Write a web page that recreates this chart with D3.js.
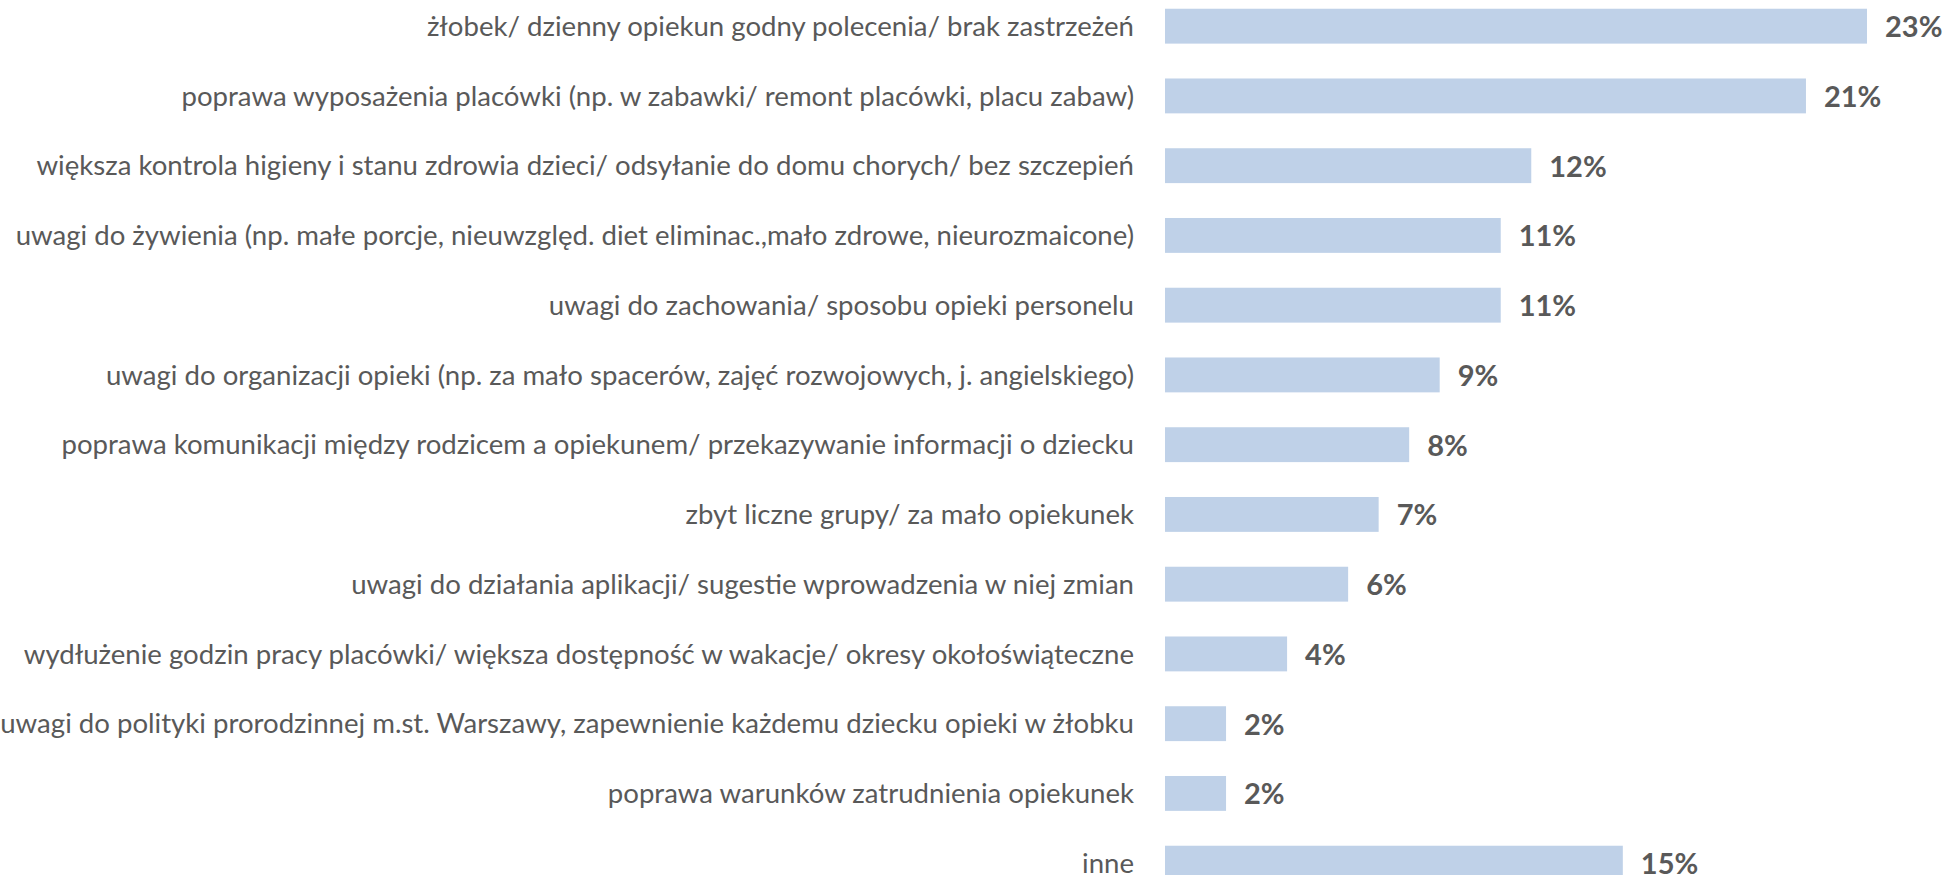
<!DOCTYPE html>
<html>
<head>
<meta charset="utf-8">
<script src="https://cdn.jsdelivr.net/npm/d3@7"></script>
<style>
    html, body { margin: 0; padding: 0; background: #fff; }
    svg { display: block; }
</style>
</head>
<body>
<div id="view"></div>
<script>
const categories = [
    "żłobek/ dzienny opiekun godny polecenia/ brak zastrzeżeń",
    "poprawa wyposażenia placówki (np. w zabawki/ remont placówki, placu zabaw)",
    "większa kontrola higieny i stanu zdrowia dzieci/ odsyłanie do domu chorych/ bez szczepień",
    "uwagi do żywienia (np. małe porcje, nieuwzględ. diet eliminac.,mało zdrowe, nieurozmaicone)",
    "uwagi do zachowania/ sposobu opieki personelu",
    "uwagi do organizacji opieki (np. za mało spacerów, zajęć rozwojowych, j. angielskiego)",
    "poprawa komunikacji między rodzicem a opiekunem/ przekazywanie informacji o dziecku",
    "zbyt liczne grupy/ za mało opiekunek",
    "uwagi do działania aplikacji/ sugestie wprowadzenia w niej zmian",
    "wydłużenie godzin pracy placówki/ większa dostępność w wakacje/ okresy okołoświąteczne",
    "uwagi do polityki prorodzinnej m.st. Warszawy, zapewnienie każdemu dziecku opieki w żłobku",
    "poprawa warunków zatrudnienia opiekunek",
    "inne"
];
const values = [23, 21, 12, 11, 11, 9, 8, 7, 6, 4, 2, 2, 15];
const valueLabels = ["23%", "21%", "12%", "11%", "11%", "9%", "8%", "7%", "6%", "4%", "2%", "2%", "15%"];

const width = 1949;
const height = 875;
const barLeft = 1165;
const labelRight = 1134;

const svg = d3.select("#view")
    .append("svg")
        .attr("width", width)
        .attr("height", height);

const x = d3.scaleLinear()
    .domain([0, 23])
    .range([0, 702]);

const y = d3.scaleBand()
    .domain(categories)
    .range([-8.7, -8.7 + 13 * 69.75])
    .paddingInner(0.5)
    .paddingOuter(0.25);

// bars
svg.append("g")
    .selectAll("rect")
    .data(categories)
    .join("rect")
        .attr("x", barLeft)
        .attr("y", d => y(d))
        .attr("width", (d, i) => x(values[i]))
        .attr("height", y.bandwidth())
        .attr("fill", "#bfd1e8");

// category labels
const labels = svg.append("g")
    .selectAll("text")
    .data(categories)
    .join("text")
        .attr("x", labelRight)
        .attr("y", d => y(d) + y.bandwidth() / 2)
        .attr("dy", "0.35em")
        .attr("text-anchor", "end")
        .attr("fill", "#595959")
        .style("font-family", "Lato, 'Open Sans', sans-serif")
        .style("font-size", "100px")
        .text(d => d);

// fit font size so the longest label spans the same width as the reference
let maxLen = 0;
labels.each(function() { maxLen = Math.max(maxLen, this.getComputedTextLength()); });
labels.style("font-size", (100 * 1134 / maxLen) + "px");

// value labels
svg.append("g")
    .selectAll("text")
    .data(categories)
    .join("text")
        .attr("x", (d, i) => barLeft + x(values[i]) + 18)
        .attr("y", d => y(d) + y.bandwidth() / 2)
        .attr("dy", "0.38em")
        .attr("fill", "#595959")
        .style("font-family", "Lato, 'Open Sans', sans-serif")
        .style("font-weight", "bold")
        .style("font-size", "29px")
        .text((d, i) => valueLabels[i]);
</script>
</body>
</html>
